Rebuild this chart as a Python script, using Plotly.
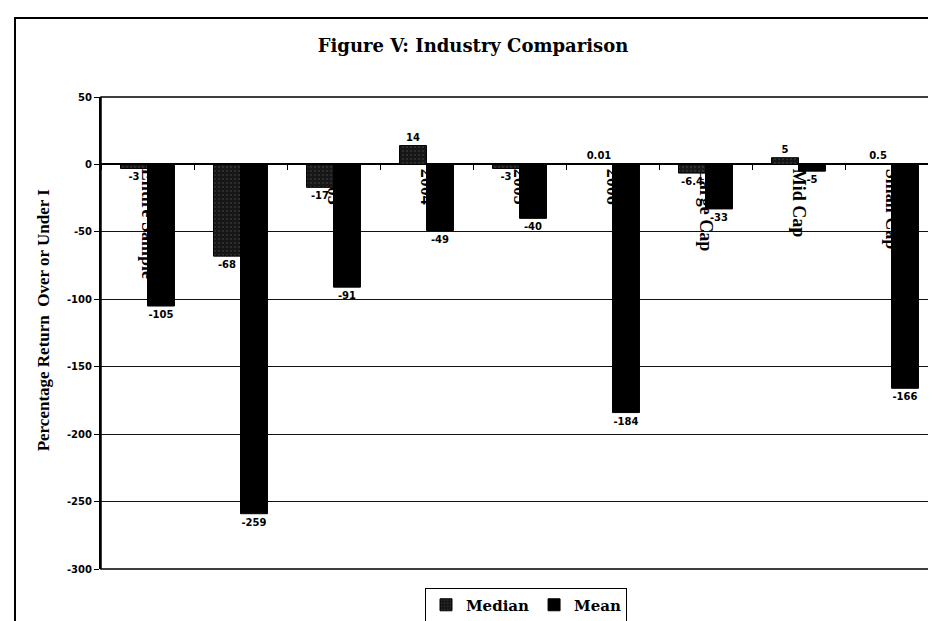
import plotly.graph_objects as go

categories = ["Entire Sample", "2002", "2003", "2004", "2005", "2006", "Large Cap", "Mid Cap", "Small Cap"]
median_vals = [-3, -68, -17, 14, -3, 0.01, -6.4, 5, 0.5]
mean_vals = [-105, -259, -91, -49, -40, -184, -33, -5, -166]
y_ticks = [50, 0, -50, -100, -150, -200, -250, -300]

W, H = 936, 621
L, R, T, B = 93, 6, 89, 48
PW, PH = W - L - R, H - T - B

def px_x(px):
    return (px - L) / PW

def px_y(py):
    return (H - B - py) / PH

sans_b = "DejaVu Sans, Liberation Sans, Arial"
serif_wide = "DejaVu Serif, Liberation Serif, serif"
serif = "Liberation Serif, Times New Roman, serif"
lab_font = dict(family=sans_b, size=10, color="black", weight="bold")

fig = go.Figure()
fig.add_trace(go.Bar(
    name="Median", x=categories, y=median_vals,
    text=[f"{v:g}" for v in median_vals], textposition="outside",
    textfont=lab_font, constraintext="none", cliponaxis=False,
    marker=dict(color="#161616", line=dict(color="black", width=1),
                pattern=dict(shape=".", fgcolor="#8a8a8a", size=4, solidity=0.1)),
))
fig.add_trace(go.Bar(
    name="Mean", x=categories, y=mean_vals,
    text=[f"{v:g}" for v in mean_vals], textposition="outside",
    textfont=lab_font, constraintext="none", cliponaxis=False,
    marker=dict(color="black", line=dict(color="black", width=1)),
))

ymin, ymax = -300, 50
zero_pos = (0 - ymin) / (ymax - ymin)

fig.update_layout(
    width=W, height=H,
    margin=dict(l=L, r=R, t=T, b=B),
    paper_bgcolor="white", plot_bgcolor="white",
    barmode="group", bargap=0.42, bargroupgap=0,
    title=dict(text="<b>Figure V: Industry Comparison</b>", x=465 / W, xanchor="center",
               y=1 - 38 / H, yanchor="middle", xref="container", yref="container",
               font=dict(family=serif_wide, size=18, color="black")),
    showlegend=True,
    legend=dict(orientation="h", x=px_x(518), xanchor="center", y=px_y(592), yanchor="top",
                bordercolor="black", borderwidth=1, bgcolor="white",
                font=dict(family=serif_wide, size=15, color="black", weight="bold"),
                itemwidth=30, tracegroupgap=0),
    xaxis=dict(
        anchor="free", position=zero_pos, layer="below traces",
        tickangle=90, ticks="outside", tickson="boundaries", ticklen=5, tickcolor="black",
        showline=True, linecolor="black", linewidth=1.5,
        tickfont=dict(family=serif, size=18, color="black", weight="bold"),
        showgrid=False,
    ),
    yaxis=dict(
        range=[ymin, ymax], tickvals=y_ticks, ticktext=[str(v) for v in y_ticks],
        ticks="outside", ticklen=5, tickcolor="black",
        showline=True, linecolor="black", linewidth=2,
        showgrid=True, gridcolor="#111111", gridwidth=1, zeroline=False,
        tickfont=dict(family=sans_b, size=10, color="black", weight="bold"),
    ),
    annotations=[
        dict(text="<b>Percentage Return  Over or Under I</b>", xref="paper", yref="paper",
             x=px_x(35), y=px_y(318), textangle=-90, showarrow=False,
             xanchor="center", yanchor="middle",
             font=dict(family=serif, size=17, color="black", weight="bold")),
    ],
    shapes=[
        dict(type="rect", xref="paper", yref="paper", x0=0, x1=1, y0=0, y1=1,
             line=dict(color="black", width=1.5), layer="above"),
        dict(type="rect", xref="paper", yref="paper", x0=px_x(7), x1=px_x(945),
             y0=px_y(630), y1=px_y(8), line=dict(color="black", width=2), layer="below"),
    ],
)

fig.write_html("out.html")
